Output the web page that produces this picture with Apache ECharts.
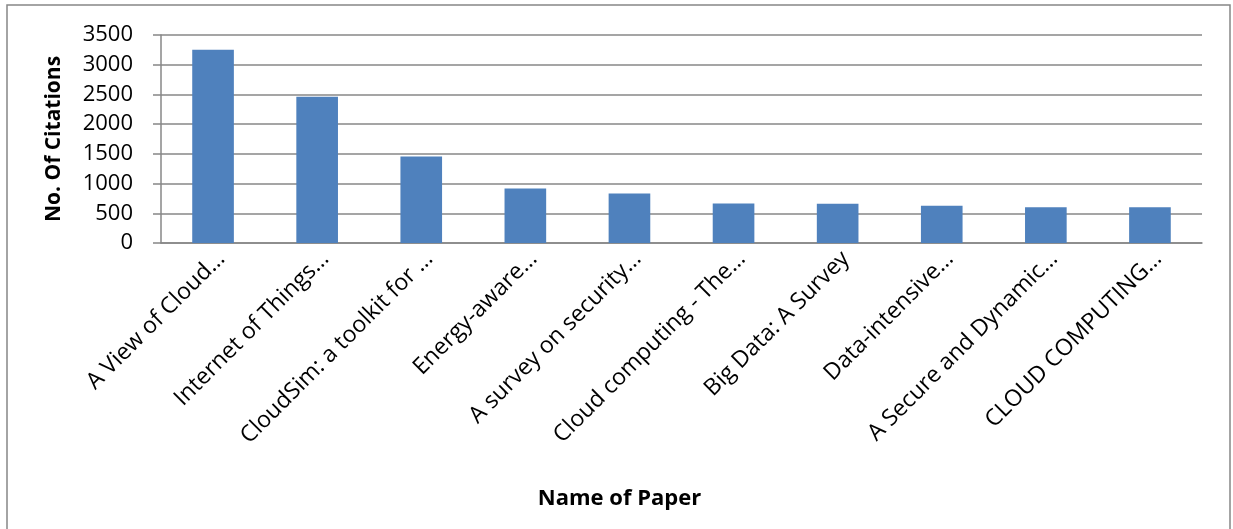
<!DOCTYPE html>
<html>
<head>
<meta charset="utf-8">
<script src="https://cdn.jsdelivr.net/npm/echarts@6/dist/echarts.min.js"></script>
<style>
html,body{margin:0;padding:0;background:#fff;}
#chart{width:1233px;height:529px;}
</style>
</head>
<body>
<div id="chart"></div>
<script>
const categories = [
  "A View of Cloud\u2026",
  "Internet of Things\u2026",
  "CloudSim: a toolkit for \u2026",
  "Energy-aware\u2026",
  "A survey on security\u2026",
  "Cloud computing - The\u2026",
  "Big Data: A Survey",
  "Data-intensive\u2026",
  "A Secure and Dynamic\u2026",
  "CLOUD COMPUTING\u2026"
];
const citations = [3250, 2460, 1455, 918, 833, 665, 660, 626, 600, 600];
const yTicks = { min: 0, max: 3500, interval: 500 };
const yTitle = "No. Of Citations";
const xTitle = "Name of Paper";

const font = "'Open Sans', 'Liberation Sans', sans-serif";
const chart = echarts.init(document.getElementById('chart'), null, {renderer: 'canvas'});
chart.setOption({
  animation: false,
  backgroundColor: '#ffffff',
  grid: { left: 161, right: 31, top: 35, bottom: 286, containLabel: false },
  graphic: [{
    type: 'rect',
    shape: { x: 7, y: 5, width: 1223, height: 540 },
    style: { fill: 'none', stroke: '#878787', lineWidth: 1.5 },
    silent: true
  }],
  xAxis: {
    type: 'category',
    data: categories,
    axisLine: { show: true, lineStyle: { color: '#878787', width: 1.5 } },
    axisTick: { show: false },
    axisLabel: {
      interval: 0, rotate: 45, margin: 4, verticalAlign: 'top',
      fontFamily: font, fontSize: 23, color: '#000'
    },
    name: xTitle,
    nameLocation: 'middle',
    nameGap: 245,
    nameTextStyle: {
      fontFamily: font, fontSize: 22, fontWeight: 'bold', color: '#000',
      padding: [0, 124, 0, 0]
    }
  },
  yAxis: {
    type: 'value',
    min: yTicks.min, max: yTicks.max, interval: yTicks.interval,
    axisLine: { show: true, lineStyle: { color: '#878787', width: 1.5 } },
    axisTick: { show: true, length: 8, lineStyle: { color: '#878787', width: 1.5 } },
    axisLabel: {
      margin: 28, fontFamily: font, fontSize: 22, color: '#000',
      formatter: function (v) { return String(v); }
    },
    splitLine: { show: true, lineStyle: { color: '#878787', width: 1.5 } },
    name: yTitle,
    nameLocation: 'middle',
    nameGap: 96,
    nameTextStyle: { fontFamily: font, fontSize: 21, fontWeight: 'bold', color: '#000' }
  },
  series: [{
    type: 'bar',
    data: citations,
    barCategoryGap: '60%',
    itemStyle: { color: '#4F81BD' }
  }]
});
</script>
</body>
</html>
